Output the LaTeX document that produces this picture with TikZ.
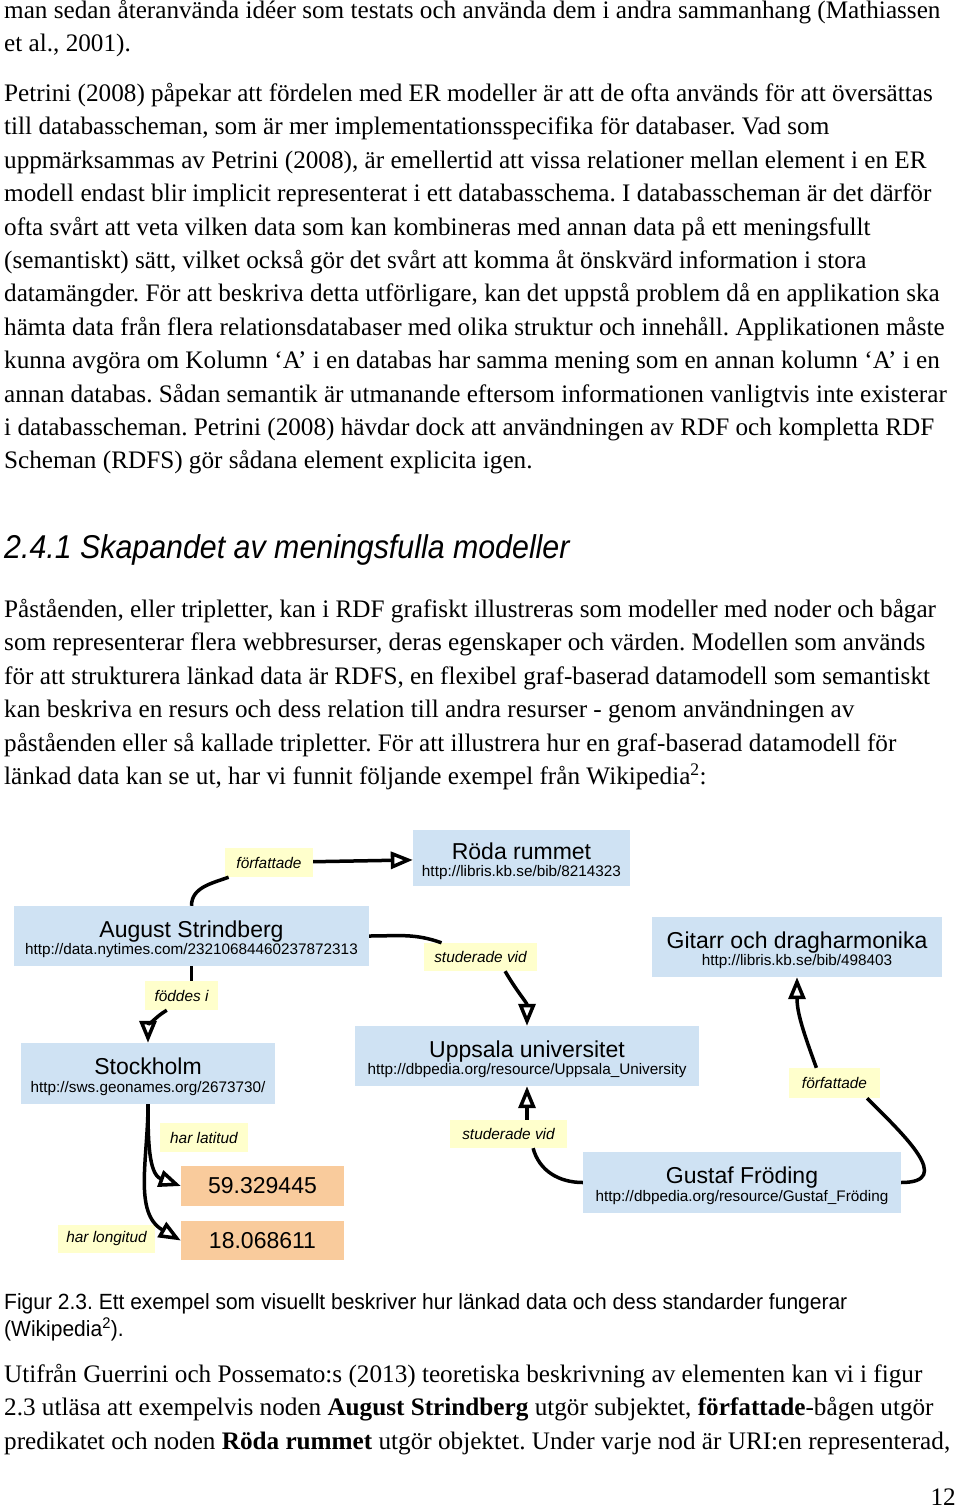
\documentclass[tikz,border=0pt]{standalone}
\usepackage{fontspec}
\setmainfont{Liberation Serif}
\newfontfamily\arialfont{Liberation Sans}
\newfontfamily\headfont[FakeStretch=0.92]{Liberation Sans}
\newfontfamily\capfont[FakeStretch=0.955]{Liberation Sans}
\usetikzlibrary{arrows.meta}
\definecolor{nodeblue}{RGB}{207,226,243}
\definecolor{litorange}{RGB}{249,203,156}
\definecolor{arcyellow}{RGB}{255,255,204}
\newcommand\restitle[1]{{\fontsize{23}{17.5}\selectfont\rule{0pt}{22.7pt}#1}}
\frenchspacing
\begin{document}
\begin{tikzpicture}[x=1pt,y=-1pt,
  body/.style={anchor=base west,inner sep=0pt,font=\fontsize{25.2}{30}\selectfont},
  res/.style={fill=nodeblue,align=center,inner sep=0pt,font=\arialfont\fontsize{15.3}{17.5}\selectfont},
  lit/.style={fill=litorange,inner sep=0pt,minimum width=163pt,font=\arialfont\fontsize{23}{27}\selectfont},
  arc/.style={fill=arcyellow,inner sep=0pt,font=\arialfont\itshape\fontsize{15.4}{18}\selectfont},
  link/.style={line width=3.5pt,-{Triangle[open,length=22pt,width=17pt]}},
  plain/.style={line width=3.5pt}]
\useasboundingbox[fill=white] (0,0) rectangle (960,1509);
% text above the figure
\foreach \y/\t [count=\i] in {18.5/{man sedan återanvända idéer som testats och använda dem i andra sammanhang (Mathiassen},
  51.9/{et al., 2001).}}
\node[body] (intro\i) at (4,\y) {\t};
\foreach \y/\t [count=\i] in {101.5/{Petrini (2008) påpekar att fördelen med ER modeller är att de ofta används för att översättas},
  134.9/{till databasscheman, som är mer implementationsspecifika för databaser. Vad som},
  168.3/{uppmärksammas av Petrini (2008), är emellertid att vissa relationer mellan element i en ER},
  201.7/{modell endast blir implicit representerat i ett databasschema. I databasscheman är det därför},
  235.1/{ofta svårt att veta vilken data som kan kombineras med annan data på ett meningsfullt},
  268.5/{(semantiskt) sätt, vilket också gör det svårt att komma åt önskvärd information i stora},
  301.9/{datamängder. För att beskriva detta utförligare, kan det uppstå problem då en applikation ska},
  335.3/{hämta data från flera relationsdatabaser med olika struktur och innehåll. Applikationen måste},
  368.7/{kunna avgöra om Kolumn ‘A’ i en databas har samma mening som en annan kolumn ‘A’ i en},
  402.1/{annan databas. Sådan semantik är utmanande eftersom informationen vanligtvis inte existerar},
  435.5/{i databasscheman. Petrini (2008) hävdar dock att användningen av RDF och kompletta RDF},
  468.9/{Scheman (RDFS) gör sådana element explicita igen.}}
\node[body] (petrini\i) at (4,\y) {\t};
\node[anchor=base west,inner sep=0pt,font=\headfont\itshape\fontsize{33}{36}\selectfont] (heading) at (4,558) {2.4.1 Skapandet av meningsfulla modeller};
\foreach \y/\t [count=\i] in {617.5/{Påståenden, eller tripletter, kan i RDF grafiskt illustreras som modeller med noder och bågar},
  650.9/{som representerar flera webbresurser, deras egenskaper och värden. Modellen som används},
  684.3/{för att strukturera länkad data är RDFS, en flexibel graf-baserad datamodell som semantiskt},
  717.7/{kan beskriva en resurs och dess relation till andra resurser - genom användningen av},
  751.1/{påståenden eller så kallade tripletter. För att illustrera hur en graf-baserad datamodell för},
  784.5/{länkad data kan se ut, har vi funnit följande exempel från Wikipedia\textsuperscript{2}:}}
\node[body] (rdf\i) at (4,\y) {\t};
% the graph
\node[res,minimum width=217pt,minimum height=56pt] (rodarum) at (521.5,858) {\restitle{Röda rummet}\\http://libris.kb.se/bib/8214323};
\node[res,minimum width=355pt,minimum height=60pt] (strindberg) at (191.5,936) {\restitle{August Strindberg}\\http://data.nytimes.com/23210684460237872313};
\node[res,minimum width=290pt,minimum height=60pt] (gitarr) at (797,947) {\restitle{Gitarr och dragharmonika}\\http://libris.kb.se/bib/498403};
\node[res,minimum width=254pt,minimum height=61pt] (stockholm) at (148,1073.5) {\restitle{Stockholm}\\http://sws.geonames.org/2673730/};
\node[res,minimum width=344pt,minimum height=60pt] (uppsala) at (527,1056) {\restitle{Uppsala universitet}\\http://dbpedia.org/resource/Uppsala\_University};
\node[res,minimum width=318pt,minimum height=61pt] (froding) at (742,1182.5) {\restitle{Gustaf Fröding}\\http://dbpedia.org/resource/Gustaf\_Fröding};
\node[lit,minimum height=40pt] (lat) at (262.5,1186) {59.329445};
\node[lit,minimum height=39pt] (long) at (262.5,1240.5) {18.068611};
\node[arc,minimum width=88pt,minimum height=29pt] (aut1) at (269,862.5) {författade};
\node[arc,minimum width=113pt,minimum height=28pt] (stud1) at (480.5,957) {studerade vid};
\node[arc,minimum width=73pt,minimum height=29pt] (fodd) at (181.5,995.5) {föddes i};
\node[arc,minimum width=88pt,minimum height=29pt] (latlab) at (204,1137.5) {har latitud};
\node[arc,minimum width=117pt,minimum height=28pt] (stud2) at (508.5,1134) {studerade vid};
\node[arc,minimum width=91pt,minimum height=30pt] (aut2) at (834.5,1083) {författade};
\node[arc,minimum width=97pt,minimum height=28pt] (longlab) at (106.5,1239) {har longitud};
\draw[plain] (strindberg) to[out=90,in=200] (aut1);
\draw[link] (aut1) -- (rodarum);
\draw[plain] (strindberg) to[out=0,in=160] (stud1);
\draw[link] (stud1.-30) to[out=-60,in=90] (uppsala.north);
\draw[plain] (strindberg.south) -- (strindberg.south |- fodd.north);
\draw[link] (fodd.-135) to[out=-150,in=90] (stockholm.north);
\draw[link] (stockholm.south) to[out=-90,in=160] (lat.west);
\draw[link] (stockholm.south) to[out=-90,in=150] (long.west);
\draw[plain] (froding.west) to[out=180,in=-75] (stud2.-30);
\draw[link] (stud2.north -| uppsala.south) -- (uppsala.south);
\draw[plain] (froding.east) to[out=0,in=-45,looseness=1.5] (aut2.-25);
\draw[link] (aut2.140) to[out=110,in=-90] (gitarr.south);
% caption and text below
\node[anchor=base west,inner sep=0pt,font=\capfont\fontsize{22}{27}\selectfont] (cap1) at (4,1309) {Figur 2.3. Ett exempel som visuellt beskriver hur länkad data och dess standarder fungerar};
\node[anchor=base west,inner sep=0pt,font=\capfont\fontsize{22}{27}\selectfont] (cap2) at (4,1336) {(Wikipedia\textsuperscript{2}).};
\foreach \y/\t [count=\i] in {1382.5/{Utifrån Guerrini och Possemato:s (2013) teoretiska beskrivning av elementen kan vi i figur},
  1415.9/{2.3 utläsa att exempelvis noden \textbf{August Strindberg} utgör subjektet, \textbf{författade}-bågen utgör},
  1449.3/{predikatet och noden \textbf{Röda rummet} utgör objektet. Under varje nod är URI:en representerad,}}
\node[body] (after\i) at (4,\y) {\t};
\node[body,anchor=base east] (pagenum) at (956,1505) {12};
\end{tikzpicture}
\end{document}
